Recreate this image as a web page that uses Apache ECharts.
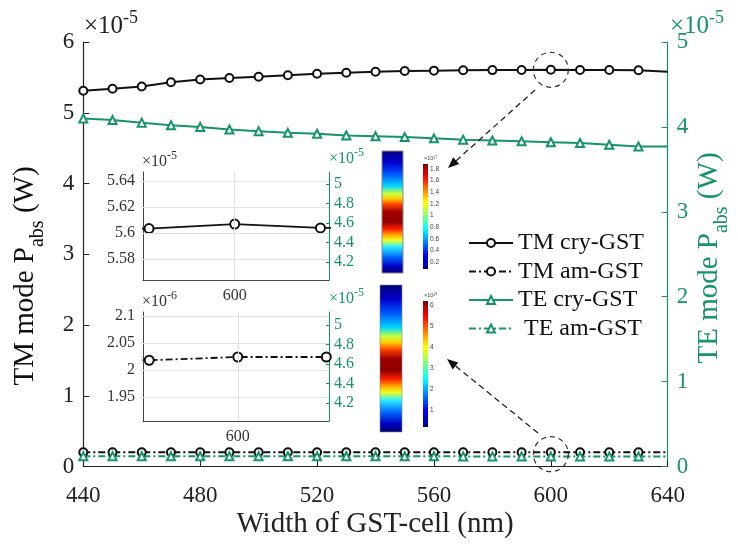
<!DOCTYPE html>
<html><head><meta charset="utf-8">
<script src="https://cdn.jsdelivr.net/npm/echarts@6/dist/echarts.min.js"></script>
<style>html,body{margin:0;padding:0;background:#fff}#c{width:738px;height:545px}</style>
</head><body><div id="c"></div><script>
// ---- data ----
const widths = [440,450,460,470,480,490,500,510,520,530,540,550,560,570,580,590,600,610,620,630,640]; // nm
const tmCry = [5.31,5.34,5.37,5.43,5.47,5.49,5.51,5.53,5.55,5.565,5.58,5.59,5.595,5.60,5.6025,5.6035,5.607,5.604,5.604,5.60,5.58]; // x1e-5 W
const tmAm  = [2.00,2.00,2.01,2.01,2.01,2.01,2.01,2.02,2.02,2.02,2.02,2.02,2.02,2.02,2.02,2.018,2.024,2.024,2.02,2.02,2.02]; // x1e-6 W
const teCry = [4.10,4.08,4.05,4.02,4.00,3.97,3.95,3.93,3.92,3.90,3.89,3.88,3.865,3.85,3.84,3.83,3.82,3.81,3.79,3.77,3.77]; // x1e-5 W
const teAm  = [1.22,1.22,1.21,1.21,1.21,1.21,1.20,1.20,1.20,1.20,1.20,1.20,1.20,1.19,1.19,1.19,1.19,1.19,1.19,1.19,1.19]; // x1e-6 W
const seriesNames = ['TM cry-GST','TM am-GST','TE cry-GST',' TE am-GST'];
const inset1Ticks = [5.58,5.6,5.62,5.64];
const inset2Ticks = [1.95,2,2.05,2.1];
const insetRightTicks = [4.2,4.4,4.6,4.8,5];
const insetXTicks = [600];
const cb1Labels = [1.8,1.6,1.4,1.2,1,0.8,0.6,0.4,0.2];
const cb2Labels = [6,5,4,3,2,1];

const GREEN = '#17936c';
const FONT = '"Liberation Serif","Times New Roman",serif';
const chart = echarts.init(document.getElementById('c'), null, {renderer:'canvas'});

function pairs(vals, scale, from, to) {
  const out = [];
  widths.forEach((w,i)=>{ if ((from===undefined||w>=from)&&(to===undefined||w<=to)) out.push([w, vals[i]*scale]); });
  return out;
}
function lastNoSymbol(arr){ return arr.map((p,i)=> i===arr.length-1 ? {value:p, symbol:'none'} : p); }
const fmt = v => String(+v.toFixed(3));

function insetX(grid, max){
  return {gridIndex:grid,type:'value',min:589.3,max:max,
    axisLine:{show:true,onZero:false,lineStyle:{color:'#444',width:1}},
    axisTick:{show:true,inside:true,length:3,customValues:insetXTicks,lineStyle:{color:'#444'}},
    axisLabel:{show:true,customValues:insetXTicks,fontFamily:FONT,fontSize:16,color:'#333',margin:8},
    splitLine:{show:false}};
}
function insetYLeft(grid,min,max,ticks){
  return {gridIndex:grid,type:'value',min:min,max:max,position:'left',
    axisLine:{show:true,onZero:false,lineStyle:{color:'#444',width:1}},
    axisTick:{show:true,inside:true,length:3,customValues:ticks,lineStyle:{color:'#444'}},
    axisLabel:{customValues:ticks,fontFamily:FONT,fontSize:16,color:'#333',margin:8,formatter:fmt},
    splitLine:{show:false}};
}
function insetYRight(grid,min,max){
  return {gridIndex:grid,type:'value',min:min,max:max,position:'right',
    axisLine:{show:true,onZero:false,lineStyle:{color:GREEN,width:1}},
    axisTick:{show:true,inside:true,length:3,customValues:insetRightTicks,lineStyle:{color:GREEN}},
    axisLabel:{customValues:insetRightTicks,fontFamily:FONT,fontSize:16,color:GREEN,margin:5,formatter:fmt},
    splitLine:{show:false}};
}
function gridLines(ticks){
  return {silent:true,symbol:'none',label:{show:false},animation:false,
    lineStyle:{color:'#e0e0e0',width:1,type:'solid'},emphasis:{disabled:true},
    data: ticks.map(v=>({yAxis:v})).concat(insetXTicks.map(v=>({xAxis:v})))};
}

const option = {
  animation:false,
  backgroundColor:'#fff',
  grid:[
    {left:83.3, top:42, width:584.4, height:424.5},
    {left:143, top:172, width:186, height:108},
    {left:143, top:312, width:186, height:109}
  ],
  legend:{
    orient:'vertical', left:468, top:231, padding:0, itemWidth:44, itemHeight:10, itemGap:4.5,
    data:seriesNames,
    textStyle:{fontFamily:FONT,fontSize:24,color:'#111',lineHeight:24}
  },
  xAxis:[
    {gridIndex:0,type:'value',min:440,max:640,interval:40,
     axisLine:{lineStyle:{color:'#222',width:1.2}},
     axisTick:{inside:true,length:6,lineStyle:{color:'#222'}},
     axisLabel:{fontFamily:FONT,fontSize:23,color:'#222',margin:18},
     splitLine:{show:false}},
    insetX(1,611),
    insetX(2,610.3)
  ],
  yAxis:[
    {gridIndex:0,type:'value',min:0,max:6,interval:1,position:'left',
     axisLine:{show:true,lineStyle:{color:'#222',width:1.2}},
     axisTick:{show:true,inside:true,length:6,lineStyle:{color:'#222'}},
     axisLabel:{fontFamily:FONT,fontSize:23,color:'#222',margin:9},
     splitLine:{show:false}},
    {gridIndex:0,type:'value',min:0,max:5,interval:1,position:'right',
     axisLine:{show:true,lineStyle:{color:GREEN,width:1.2}},
     axisTick:{show:true,inside:true,length:6,lineStyle:{color:GREEN}},
     axisLabel:{fontFamily:FONT,fontSize:23,color:GREEN,margin:9},
     splitLine:{show:false}},
    insetYLeft(1,5.564,5.647,inset1Ticks),
    insetYRight(1,4.015,5.123),
    insetYLeft(2,1.906,2.107,inset2Ticks),
    insetYRight(2,4.015,5.133)
  ],
  series:[
    {name:seriesNames[0],type:'line',xAxisIndex:0,yAxisIndex:0,data:lastNoSymbol(pairs(tmCry,1)),
     symbol:'circle',symbolSize:8,showAllSymbol:true,lineStyle:{color:'#111',width:2},
     itemStyle:{color:'#fff',borderColor:'#111',borderWidth:2}},
    {name:seriesNames[1],type:'line',xAxisIndex:0,yAxisIndex:0,data:lastNoSymbol(pairs(tmAm,0.1)),
     symbol:'circle',symbolSize:8,showAllSymbol:true,lineStyle:{color:'#111',width:2,type:[7,3,2,3]},
     itemStyle:{color:'#fff',borderColor:'#111',borderWidth:2}},
    {name:seriesNames[2],type:'line',xAxisIndex:0,yAxisIndex:1,data:lastNoSymbol(pairs(teCry,1)),
     symbol:'triangle',symbolSize:8,showAllSymbol:true,lineStyle:{color:GREEN,width:2},
     itemStyle:{color:'#fff',borderColor:GREEN,borderWidth:2}},
    {name:seriesNames[3],type:'line',xAxisIndex:0,yAxisIndex:1,data:lastNoSymbol(pairs(teAm,0.1)),
     symbol:'triangle',symbolSize:8,showAllSymbol:true,lineStyle:{color:GREEN,width:2,type:[7,3,2,3]},
     itemStyle:{color:'#fff',borderColor:GREEN,borderWidth:2}},
    {name:'inset1',type:'line',xAxisIndex:1,yAxisIndex:2,data:pairs(tmCry,1,580,620),
     symbol:'circle',symbolSize:9,lineStyle:{color:'#111',width:1.8},
     itemStyle:{color:'#fff',borderColor:'#111',borderWidth:2},markLine:gridLines(inset1Ticks)},
    {name:'inset2',type:'line',xAxisIndex:2,yAxisIndex:4,data:pairs(tmAm,1,580,620),
     symbol:'circle',symbolSize:9,lineStyle:{color:'#111',width:1.8,type:[7,3,2,3]},
     itemStyle:{color:'#fff',borderColor:'#111',borderWidth:2},markLine:gridLines(inset2Ticks)}
  ]
};
chart.setOption(option);

// ---- decorations ----
const jetField = [
  [0,'#00007a'],[0.1,'#0000d0'],[0.2,'#0060ff'],[0.29,'#00d8ff'],[0.35,'#c8ff40'],[0.39,'#ffd000'],
  [0.44,'#ff4000'],[0.5,'#a00000'],[0.58,'#900000'],[0.64,'#ff2000'],[0.69,'#ffb000'],[0.73,'#f0ff20'],
  [0.78,'#30f0ff'],[0.86,'#0070ff'],[0.94,'#0000c8'],[1,'#00006e']
];
const jetBar = [[0,'#800000'],[0.12,'#ff0000'],[0.37,'#ffff00'],[0.62,'#00ffff'],[0.87,'#0000ff'],[1,'#00008f']];
const grad = stops => new echarts.graphic.LinearGradient(0,0,0,1, stops.map(s=>({offset:s[0],color:s[1]})));

function arrow(x1,y1,x2,y2){
  const ang = Math.atan2(y2-y1,x2-x1), L=11, W=4.5;
  const bx = x2 - L*Math.cos(ang), by = y2 - L*Math.sin(ang);
  const px = -Math.sin(ang)*W, py = Math.cos(ang)*W;
  return [
    {type:'line',shape:{x1:x1,y1:y1,x2:bx,y2:by},style:{stroke:'#222',lineWidth:1.3,lineDash:[6,4]},z:20},
    {type:'polygon',shape:{points:[[x2,y2],[bx+px,by+py],[bx-px,by-py]]},style:{fill:'#111'},z:20}
  ];
}

const c1 = chart.convertToPixel({xAxisIndex:0,yAxisIndex:0},[600,tmCry[widths.indexOf(600)]]);
const c2 = chart.convertToPixel({xAxisIndex:0,yAxisIndex:0},[600,tmAm[widths.indexOf(600)]*0.1]);

const g = [];
function vTitle(x,y,pre,sub,post,color){
  return {type:'text',x:x,y:y,rotation:Math.PI/2,z:30,style:{
    text:'{a|'+pre+'}{s|'+sub+'}{a|'+post+'}',align:'center',verticalAlign:'middle',
    rich:{a:{fontFamily:FONT,fontSize:29,fill:color,lineHeight:37,verticalAlign:'top'},
          s:{fontFamily:FONT,fontSize:20,fill:color,lineHeight:16,verticalAlign:'bottom'}}}};
}
g.push(vTitle(29,276,'TM mode P','abs',' (W)','#111'));
g.push(vTitle(713,258,'TE mode P','abs',' (W)',GREEN));
g.push({type:'text',x:375,y:524,z:30,style:{text:'Width of GST-cell (nm)',fontFamily:FONT,fontSize:29,fill:'#222',align:'center',verticalAlign:'middle'}});
function expLabel(x,y,exp,size,color){
  const ss = Math.round(size*0.72);
  return {type:'text',x:x,y:y,z:30,style:{text:'{a|\u00d710}{b|'+exp+'}',align:'left',verticalAlign:'middle',
    rich:{a:{fontFamily:FONT,fontSize:size,fill:color,lineHeight:size+4,verticalAlign:'bottom'},
          b:{fontFamily:FONT,fontSize:ss,fill:color,lineHeight:ss,verticalAlign:'top'}}}};
}
g.push(expLabel(84,24,'-5',25,'#222'));
g.push(expLabel(670,24,'-5',25,GREEN));
g.push(expLabel(142,160,'-5',16,'#333'));
g.push(expLabel(329,157,'-5',16,GREEN));
g.push(expLabel(142,300,'-6',16,'#333'));
g.push(expLabel(329,297,'-5',16,GREEN));
// field images
g.push({type:'rect',shape:{x:382,y:151,width:21,height:122},style:{fill:grad(jetField),stroke:'#888',lineWidth:1},z:10});
g.push({type:'rect',shape:{x:380,y:285,width:22,height:147},style:{fill:grad(jetField),stroke:'#888',lineWidth:0.6},z:10});
// colorbars
g.push({type:'rect',shape:{x:423,y:164,width:5,height:105},style:{fill:grad(jetBar)},z:10});
g.push({type:'rect',shape:{x:423,y:301,width:5,height:126},style:{fill:grad(jetBar)},z:10});
const cbY1 = v => 164 + (1.886 - v)/(1.886-0.079)*105;
const cbY2 = v => 301 + (6.19 - v)/(6.19-0.19)*126;
const SANS = '"Liberation Sans",sans-serif';
cb1Labels.forEach(v=>g.push({type:'text',x:430,y:cbY1(v),z:11,style:{text:String(v),fontFamily:SANS,fontSize:6.5,fill:'#444',verticalAlign:'middle'}}));
cb2Labels.forEach(v=>g.push({type:'text',x:430,y:cbY2(v),z:11,style:{text:String(v),fontFamily:SANS,fontSize:6.5,fill:'#444',verticalAlign:'middle'}}));
g.push({type:'text',x:424,y:158,z:11,style:{text:'\u00d710\u00b9\u2077',fontFamily:SANS,fontSize:5.5,fill:'#444',verticalAlign:'middle'}});
g.push({type:'text',x:424,y:295,z:11,style:{text:'\u00d710\u00b9\u2075',fontFamily:SANS,fontSize:5.5,fill:'#444',verticalAlign:'middle'}});
// dashed circles
g.push({type:'circle',shape:{cx:c1[0],cy:c1[1],r:17.5},style:{fill:null,stroke:'#333',lineWidth:1.2,lineDash:[5,4]},z:20});
g.push({type:'circle',shape:{cx:c2[0],cy:c2[1]+2,r:17.5},style:{fill:null,stroke:'#333',lineWidth:1.2,lineDash:[5,4]},z:20});
// arrows
arrow(535,90,448,168).forEach(e=>g.push(e));
arrow(538,433,447,359).forEach(e=>g.push(e));

chart.setOption({graphic:{elements:g}});
</script></body></html>
